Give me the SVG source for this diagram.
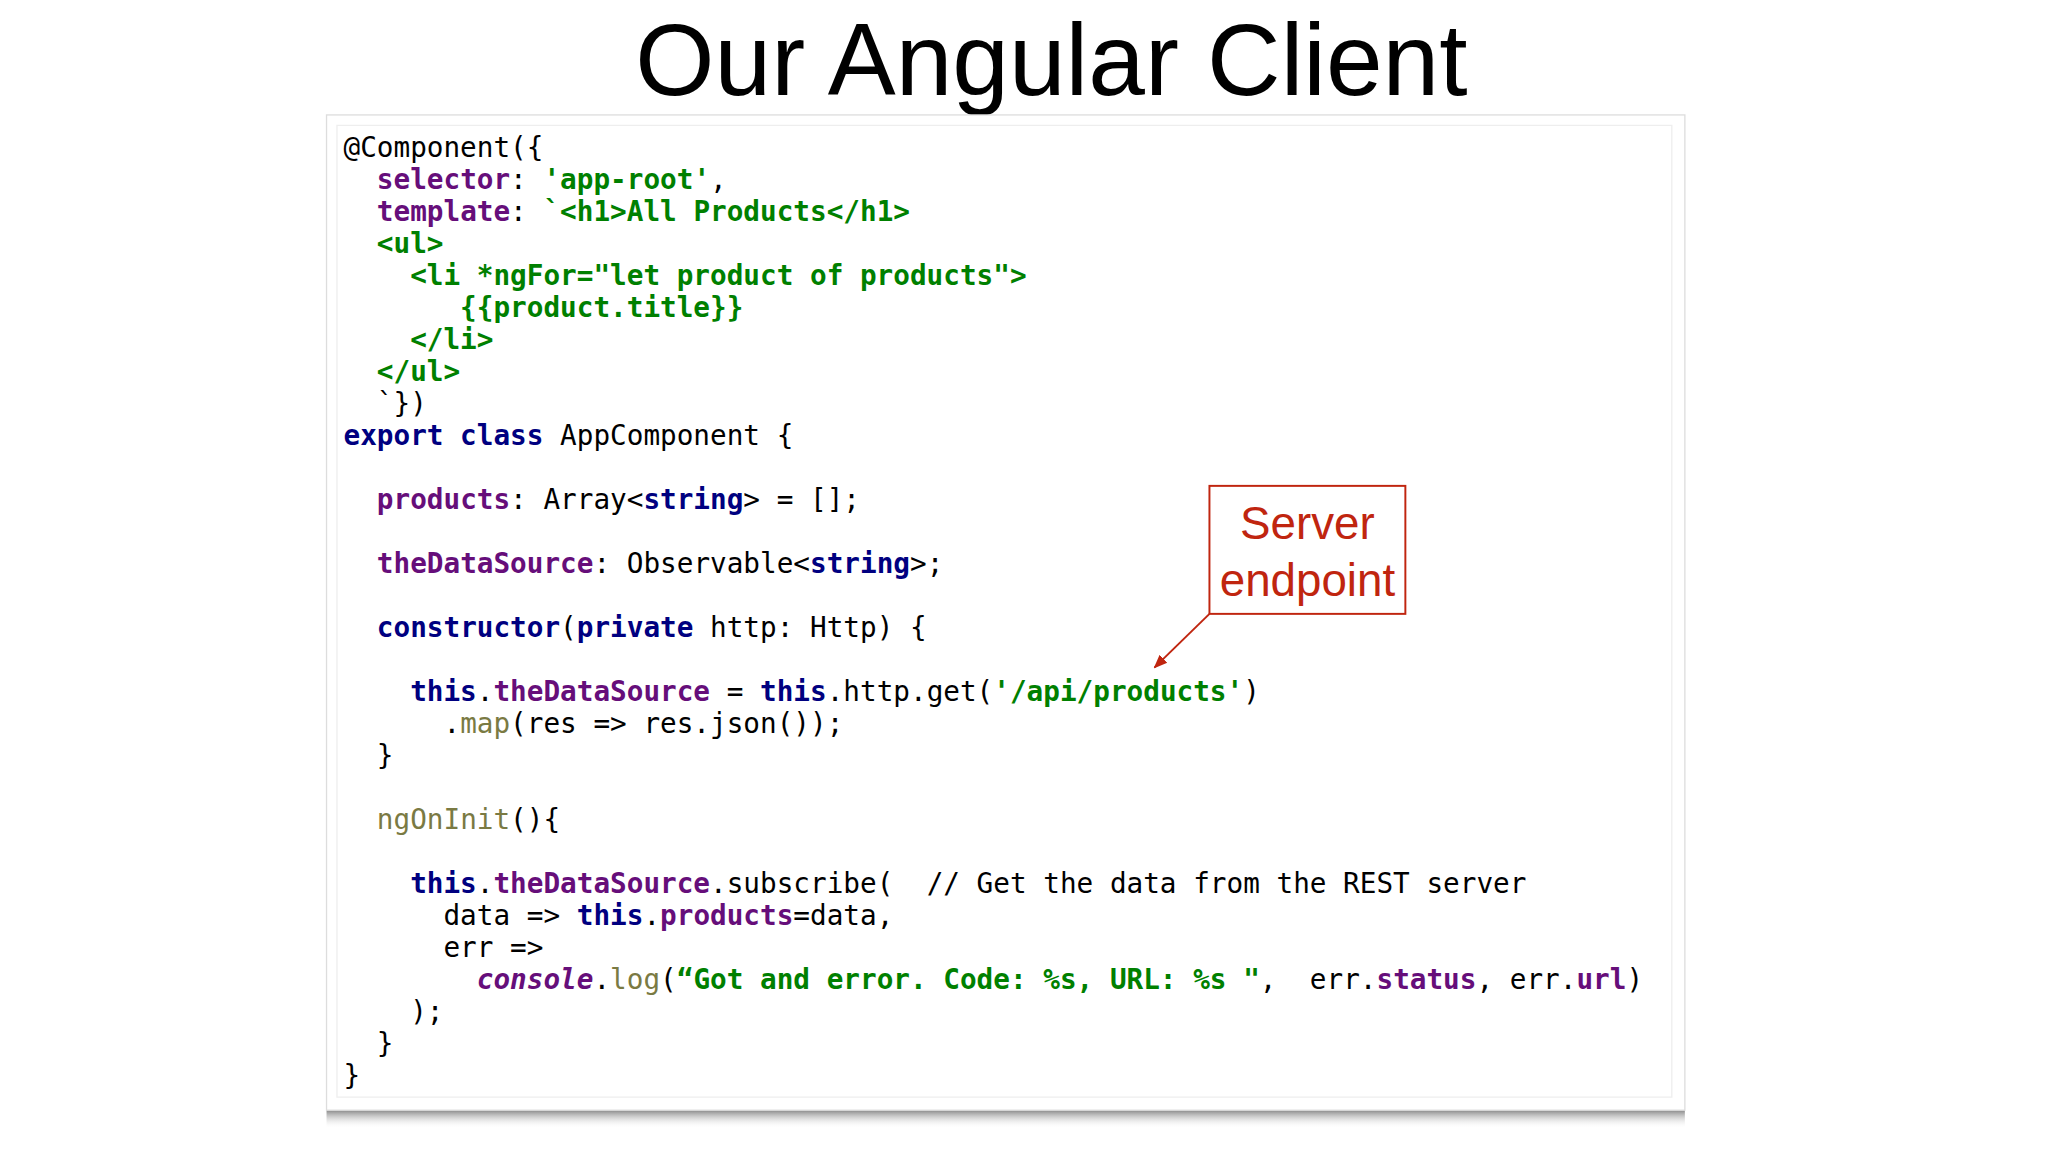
<svg xmlns="http://www.w3.org/2000/svg" width="2048" height="1152" viewBox="0 0 2048 1152">
<style>
.c{font-family:"DejaVu Sans Mono",monospace;font-size:21.2px;fill:#000}
.k{fill:#000080;font-weight:bold}
.p{fill:#660e7a;font-weight:bold}
.s{fill:#008000;font-weight:bold}
.f{fill:#7a7a43}
.i{fill:#660e7a;font-weight:bold;font-style:italic}
</style>
<defs>
<linearGradient id="sh" x1="0" y1="0" x2="0" y2="1"><stop offset="0" stop-color="#888"/><stop offset="1" stop-color="#fff" stop-opacity="0"/></linearGradient>
<marker id="ah" viewBox="0 0 10 10" refX="9" refY="5" markerWidth="7" markerHeight="7" orient="auto"><path d="M0,1 L10,5 L0,9 z" fill="#c0250f"/></marker>
</defs>
<rect width="2048" height="1152" fill="#fff"/>
<g transform="scale(1.3061)">
<text x="805" y="73" text-anchor="middle" font-family="Liberation Sans, sans-serif" font-size="78" fill="#000">Our Angular Client</text>
<g id="panel">
<rect x="250" y="850" width="1040" height="14" fill="url(#sh)"/>
<rect x="250" y="88" width="1040" height="762" fill="#fff" stroke="#ddd"/>
<rect x="258" y="96" width="1022" height="744" fill="#fff" stroke="#eee"/>
<text class="c" xml:space="preserve">
<tspan x="263" y="120">@Component({</tspan>
<tspan x="263" y="144.5">  <tspan class="p">selector</tspan>: <tspan class="s">'app-root'</tspan>,</tspan>
<tspan x="263" y="169">  <tspan class="p">template</tspan>: <tspan class="s">`&lt;h1&gt;All Products&lt;/h1&gt;</tspan></tspan>
<tspan x="263" y="193.5" class="s">  &lt;ul&gt;</tspan>
<tspan x="263" y="218" class="s">    &lt;li *ngFor="let product of products"&gt;</tspan>
<tspan x="263" y="242.5" class="s">       {{product.title}}</tspan>
<tspan x="263" y="267" class="s">    &lt;/li&gt;</tspan>
<tspan x="263" y="291.5" class="s">  &lt;/ul&gt;</tspan>
<tspan x="263" y="316">  `})</tspan>
<tspan x="263" y="340.5"><tspan class="k">export class</tspan> AppComponent {</tspan>
<tspan x="263" y="389.5">  <tspan class="p">products</tspan>: Array&lt;<tspan class="k">string</tspan>&gt; = [];</tspan>
<tspan x="263" y="438.5">  <tspan class="p">theDataSource</tspan>: Observable&lt;<tspan class="k">string</tspan>&gt;;</tspan>
<tspan x="263" y="487.5">  <tspan class="k">constructor</tspan>(<tspan class="k">private</tspan> http: Http) {</tspan>
<tspan x="263" y="536.5">    <tspan class="k">this</tspan>.<tspan class="p">theDataSource</tspan> = <tspan class="k">this</tspan>.http.get(<tspan class="s">'/api/products'</tspan>)</tspan>
<tspan x="263" y="561">      .<tspan class="f">map</tspan>(res =&gt; res.json());</tspan>
<tspan x="263" y="585.5">  }</tspan>
<tspan x="263" y="634.5">  <tspan class="f">ngOnInit</tspan>(){</tspan>
<tspan x="263" y="683.5">    <tspan class="k">this</tspan>.<tspan class="p">theDataSource</tspan>.subscribe(  // Get the data from the REST server</tspan>
<tspan x="263" y="708">      data =&gt; <tspan class="k">this</tspan>.<tspan class="p">products</tspan>=data,</tspan>
<tspan x="263" y="732.5">      err =&gt;</tspan>
<tspan x="263" y="757">        <tspan class="i">console</tspan>.<tspan class="f">log</tspan>(<tspan class="s">“Got and error. Code: %s, URL: %s "</tspan>,  err.<tspan class="p">status</tspan>, err.<tspan class="p">url</tspan>)</tspan>
<tspan x="263" y="781.5">    );</tspan>
<tspan x="263" y="806">  }</tspan>
<tspan x="263" y="830.5">}</tspan>
</text>
</g>
<g id="server-endpoint">
<rect x="926" y="372" width="150" height="98" fill="#fff" stroke="#c0250f" stroke-width="1.5"/>
<text x="1001" y="413" text-anchor="middle" font-family="Liberation Sans, sans-serif" font-size="35" fill="#c0250f">Server</text>
<text x="1001" y="456" text-anchor="middle" font-family="Liberation Sans, sans-serif" font-size="35" fill="#c0250f">endpoint</text>
</g>
<g id="connectors">
<line x1="926" y1="470" x2="884" y2="511" stroke="#c0250f" stroke-width="1.5" marker-end="url(#ah)"/>
</g>
</g>
</svg>
